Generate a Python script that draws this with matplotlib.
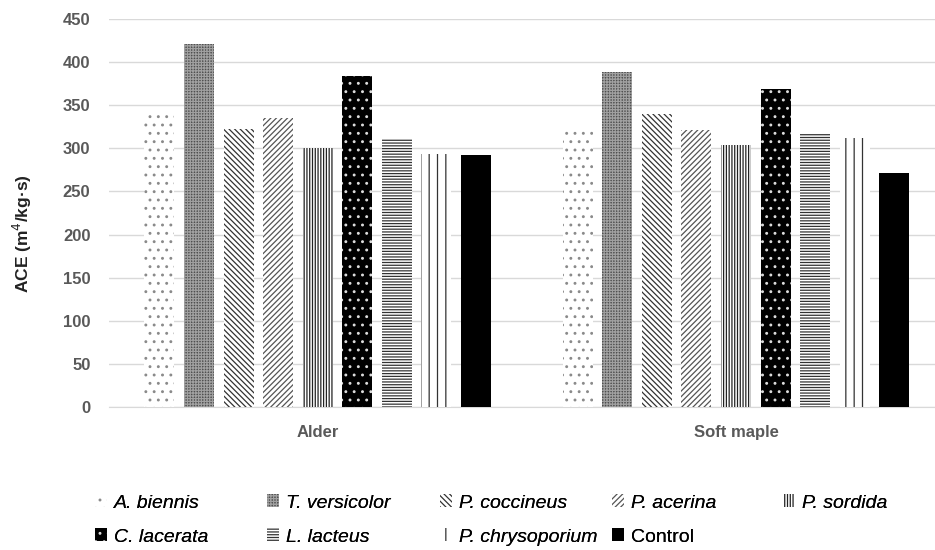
import numpy as np
import matplotlib.pyplot as plt
from matplotlib.patches import Patch

plt.rcParams['font.family'] = ['Liberation Sans', 'DejaVu Sans']
plt.rcParams['hatch.linewidth'] = 0.9

woods = ["Alder", "Soft maple"]
fungi = ["A. biennis", "T. versicolor", "P. coccineus", "P. acerina", "P. sordida",
         "C. lacerata", "L. lacteus", "P. chrysoporium", "Control"]
# ACE values, [Alder, Soft maple]
ace = {
    "A. biennis": [341, 320],
    "T. versicolor": [421, 389],
    "P. coccineus": [322, 340],
    "P. acerina": [335, 321],
    "P. sordida": [300, 304],
    "C. lacerata": [384, 369],
    "L. lacteus": [311, 317],
    "P. chrysoporium": [293, 312],
    "Control": [292, 271],
}
yticks = [0, 50, 100, 150, 200, 250, 300, 350, 400, 450]

# face colour, hatch colour, hatch
styles = {
    "A. biennis": ("white", "#8a8a8a", ".."),
    "T. versicolor": ("#4f4f4f", "#a0a0a0", "++++++"),
    "P. coccineus": ("white", "#333333", "\\" * 6),
    "P. acerina": ("white", "#555555", "/" * 6),
    "P. sordida": ("white", "#222222", "|" * 6),
    "C. lacerata": ("black", "#dddddd", ".."),
    "L. lacteus": ("white", "#333333", "-" * 6),
    "P. chrysoporium": ("white", "#333333", "||"),
    "Control": ("black", "black", None),
}

fig = plt.figure(figsize=(9.35, 5.5), dpi=100)
ax = fig.add_axes([108.5 / 935, 1 - 407 / 550, (935 - 108.5) / 935, 388 / 550])

x = np.arange(len(woods))
step = 0.0946
width = 0.0717
for i, f in enumerate(fungi):
    fc, hc, h = styles[f]
    ax.bar(x + (i - 4) * step, ace[f], width, color=fc, edgecolor=hc,
           hatch=h, linewidth=0, zorder=3, label=f)

ax.set_xlim(-0.5, 1.4755)
ax.set_ylim(0, 450)
ax.set_yticks(yticks)
ax.yaxis.grid(True, color="#d9d9d9", linewidth=1)
ax.set_axisbelow(True)
for s in ["top", "right", "left"]:
    ax.spines[s].set_visible(False)
ax.spines["bottom"].set_color("#d9d9d9")
ax.tick_params(axis="y", length=0, labelsize=12, labelcolor="#595959", pad=13)
ax.set_xticks(x)
ax.set_xticklabels(woods, fontweight="bold", fontsize=12)
ax.tick_params(axis="x", length=0, labelcolor="#595959", pad=13)
for t in ax.get_yticklabels():
    t.set_fontweight("bold")
ax.set_ylabel("ACE (m$^4$/kg·s)", fontsize=12.5, fontweight="bold", color="#222222")
ax.yaxis.set_label_coords(-0.09, 0.446)

# legend, one entry at a time so the columns sit where the reference has them
col_x = [95, 267, 440, 612, 783]
row_y = [503, 537]
for i, f in enumerate(fungi):
    fc, hc, h = styles[f]
    p = Patch(facecolor=fc, edgecolor=hc, hatch=h, linewidth=0)
    style = "normal" if f == "Control" else "italic"
    lg = fig.legend([p], [f], loc="center left",
                    bbox_to_anchor=(col_x[i % 5] / 935, 1 - row_y[i // 5] / 550),
                    frameon=False, handlelength=0.6, handleheight=0.6,
                    handletextpad=0.4, borderpad=0, borderaxespad=0,
                    prop={"size": 14, "style": style})
    fig.add_artist(lg)

fig.savefig("out.png", dpi=100)
